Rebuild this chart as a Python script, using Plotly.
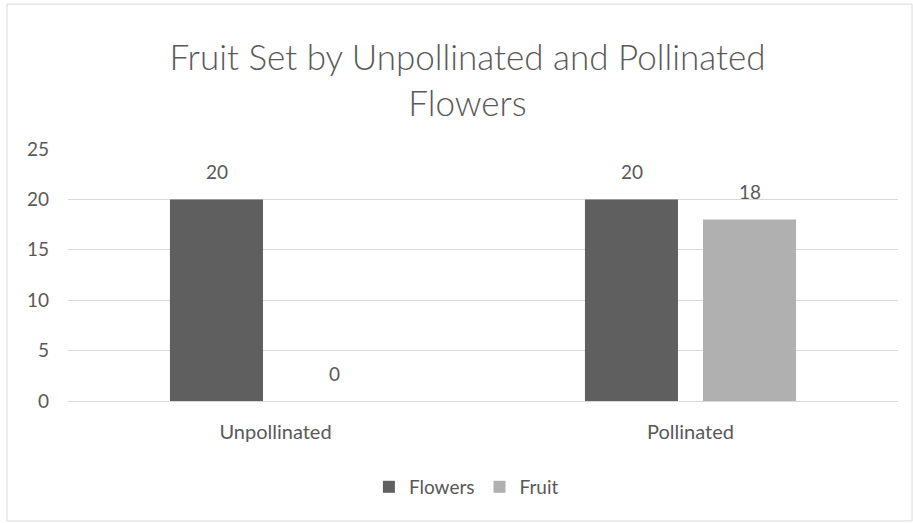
import plotly.graph_objects as go

categories = ["Unpollinated", "Pollinated"]
flowers = [20, 20]
fruit = [0, 18]
series_names = ["Flowers", "Fruit"]
y_ticks = [0, 5, 10, 15, 20, 25]

FONT = "Lato"
TXT = "#595959"
colors = ["#5f5f5f", "#b0b0b0"]

fig = go.Figure()
for name, vals, col in zip(series_names, [flowers, fruit], colors):
    fig.add_trace(go.Bar(name=name, x=categories, y=vals, marker=dict(color=col, line=dict(width=0))))

# data labels
slot_px = 118
for i, vals in enumerate([flowers, fruit]):
    shift = (-slot_px / 2) if i == 0 else (slot_px / 2)
    for c, v in zip(categories, vals):
        fig.add_annotation(x=c, y=v, text=str(v), showarrow=False, xshift=shift, yshift=28,
                           font=dict(family=FONT, size=19, color=TXT))

fig.add_shape(type="rect", xref="paper", yref="paper", x0=-0.0735, x1=1.0169, y0=-0.476, y1=1.575,
              line=dict(color="#d9d9d9", width=1), layer="below")

fig.update_layout(
    width=913, height=523,
    margin=dict(l=68, r=15, t=149, b=122),
    paper_bgcolor="white", plot_bgcolor="white",
    barmode="group", bargap=0.431, bargroupgap=0.212,
    title=dict(text="Fruit Set by Unpollinated and Pollinated<br>Flowers", x=0.512, xanchor="center",
               y=(523 - 70) / 523, yanchor="middle", yref="container",
               font=dict(family=FONT, size=35, color=TXT, weight=300)),
    font=dict(family=FONT, color=TXT, size=19),
    legend=dict(orientation="h", x=0.48, xanchor="center", y=-0.341, yanchor="middle",
                itemwidth=30, font=dict(family=FONT, size=19, color=TXT), traceorder="normal"),
    xaxis=dict(showgrid=False, showline=False, ticks="", ticklabelstandoff=17,
               tickfont=dict(family=FONT, size=20, color=TXT)),
    yaxis=dict(range=[0, 25], tickvals=y_ticks, showgrid=True, gridcolor="#d9d9d9", gridwidth=1,
               zeroline=True, zerolinecolor="#d9d9d9", zerolinewidth=1, showline=False,
               ticks="", ticklabelstandoff=18, tickfont=dict(family=FONT, size=19, color=TXT)),
)

fig.write_html("out.html", config={"displayModeBar": False},
               post_script="document.body.style.margin='0';")
